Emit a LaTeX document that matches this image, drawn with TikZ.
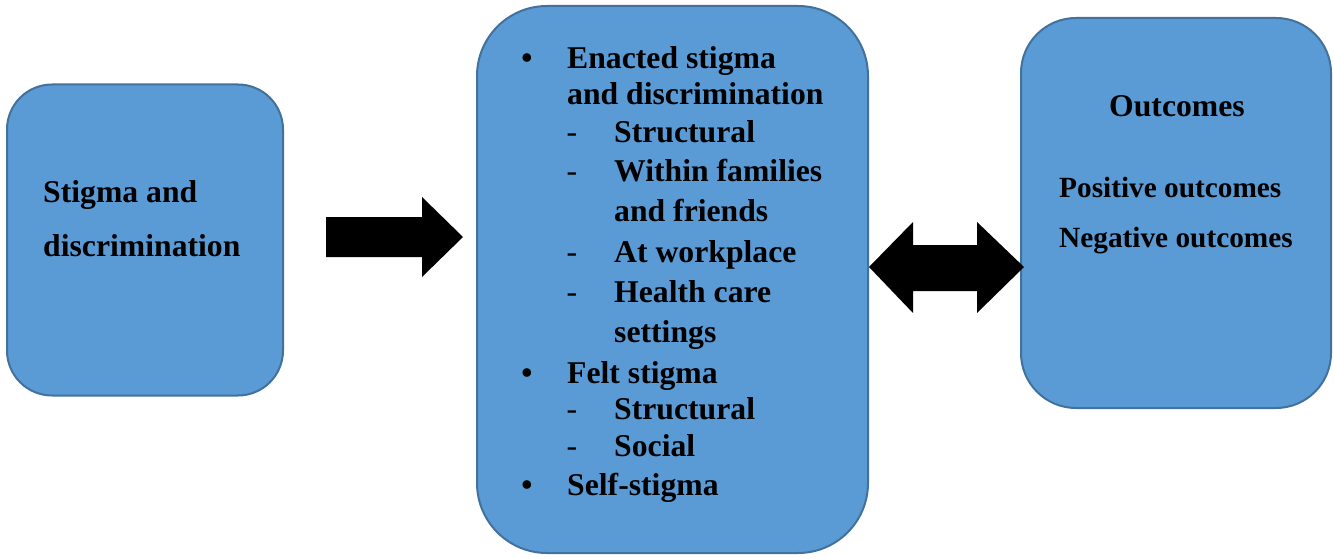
\documentclass[tikz,border=0pt]{standalone}
\usepackage{fontspec}
\setmainfont{Liberation Serif}
\definecolor{boxfill}{HTML}{5B9BD5}
\definecolor{boxline}{HTML}{41719C}
\begin{document}
\begin{tikzpicture}[x=1pt,y=-1pt,
  panel/.style={draw=boxline,fill=boxfill,line width=2pt,inner sep=0pt},
  txt/.style={anchor=base west,inner sep=0pt,font=\fontsize{31.7}{38}\selectfont\bfseries},
  stxt/.style={anchor=base west,inner sep=0pt,font=\fontsize{29.3}{36}\selectfont\bfseries},
  bul/.style={anchor=base,inner sep=0pt,font=\fontsize{31.7}{38}\selectfont\bfseries},
  dsh/.style={anchor=base,inner sep=0pt,font=\fontsize{31.7}{38}\selectfont}]
\useasboundingbox (0,0) rectangle (1334,559);
% boxes
\node[panel,rounded corners=45pt,minimum width=276pt,minimum height=311pt] (left) at (145,240) {};
\node[panel,rounded corners=70pt,minimum width=391pt,minimum height=547pt] (mid) at (672.5,279.5) {};
\node[panel,rounded corners=55pt,minimum width=310pt,minimum height=390pt] (right) at (1176,213) {};
% left text
\node[txt] (l1) at (43,202) {Stigma and};
\node[txt] (l2) at (43,256) {discrimination};
% middle text
\node[bul] (b1) at (527,69) {•};
\node[txt] (m1) at (567,69) {Enacted stigma};
\node[txt] (m2) at (567,105) {and discrimination};
\node[dsh] (d1) at (572,143) {-};
\node[txt] (m3) at (614,143) {Structural};
\node[dsh] (d2) at (572,182) {-};
\node[txt] (m4) at (614,182) {Within families};
\node[txt] (m5) at (614,222) {and friends};
\node[dsh] (d3) at (572,262) {-};
\node[txt] (m6) at (614,262) {At workplace};
\node[dsh] (d4) at (572,302) {-};
\node[txt] (m7) at (614,302) {Health care};
\node[txt] (m8) at (614,342) {settings};
\node[bul] (b2) at (527,383) {•};
\node[txt] (m9) at (567,383) {Felt stigma};
\node[dsh] (d5) at (572,419) {-};
\node[txt] (m10) at (614,419) {Structural};
\node[dsh] (d6) at (572,456) {-};
\node[txt] (m11) at (614,456) {Social};
\node[bul] (b3) at (527,495) {•};
\node[txt] (m12) at (567,495) {Self-stigma};
% right text
\node[txt] (r1) at (1109,117) {Outcomes};
\node[stxt] (r2) at (1059,197) {Positive outcomes};
\node[stxt] (r3) at (1059,247) {Negative outcomes};
% block arrows
\fill[black] (326,217) -- (422,217) -- (422,197) -- (463,237) -- (422,277) -- (422,257) -- (326,257) -- cycle;
\fill[black] (869,267) -- (913,222) -- (913,245) -- (977,245) -- (977,222) -- (1024,267) -- (977,313) -- (977,291) -- (913,291) -- (913,313) -- cycle;
\end{tikzpicture}
\end{document}
